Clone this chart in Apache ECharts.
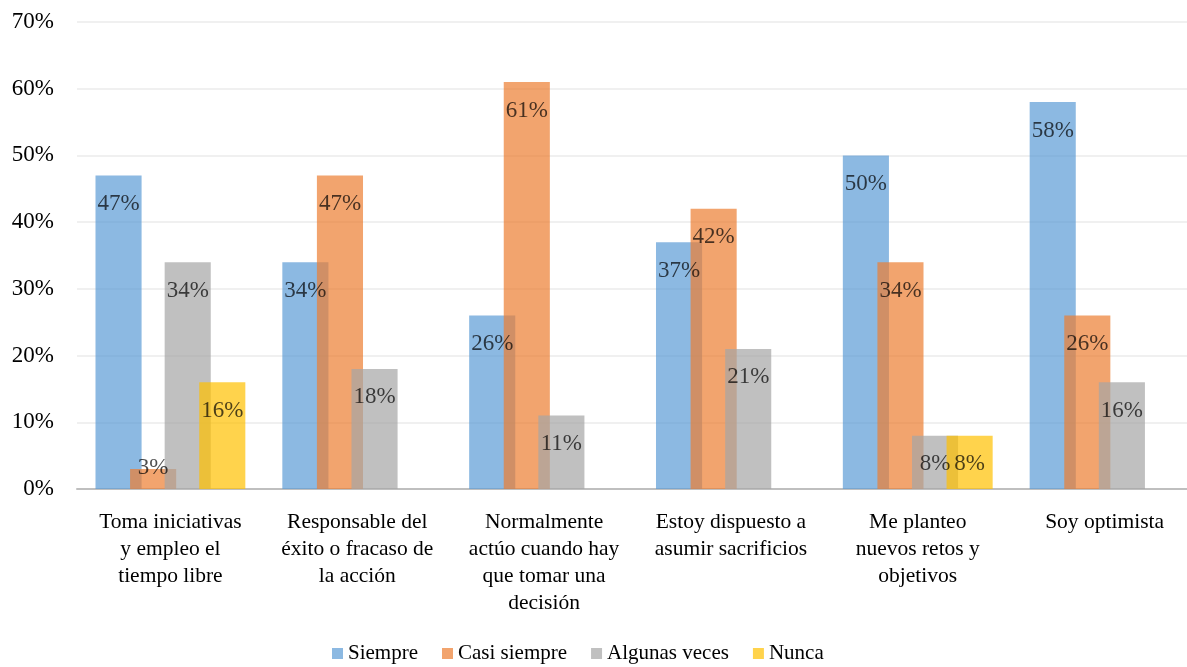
<!DOCTYPE html>
<html><head><meta charset="utf-8">
<script src="https://cdn.jsdelivr.net/npm/echarts@6/dist/echarts.min.js"></script>
<style>html,body{margin:0;padding:0;background:#fff;overflow:hidden;width:1187px;height:667px}#c{width:1200px;height:667px}</style>
</head><body><div id="c"></div>
<script>
const categories = [
  "Toma iniciativas\ny empleo el\ntiempo libre",
  "Responsable del\néxito o fracaso de\nla acción",
  "Normalmente\nactúo cuando hay\nque tomar una\ndecisión",
  "Estoy dispuesto a\nasumir sacrificios",
  "Me planteo\nnuevos retos y\nobjetivos",
  "Soy optimista"
];
const seriesNames = ["Siempre", "Casi siempre", "Algunas veces", "Nunca"];
const siempre = [47, 34, 26, 37, 50, 58];
const casiSiempre = [3, 47, 61, 42, 34, 26];
const algunasVeces = [34, 18, 11, 21, 8, 16];
const nunca = [16, null, null, null, 8, null];
const yTicks = [0, 10, 20, 30, 40, 50, 60, 70];

const colors = ["#5B9BD5", "#ED7D31", "#A5A5A5", "#FFC000"];
const font = '"Liberation Serif", "Times New Roman", serif';
const allData = [siempre, casiSiempre, algunasVeces, nunca];

const series = allData.map((arr, i) => ({
  name: seriesNames[i],
  type: 'bar',
  barGap: '-25%',
  barCategoryGap: '19.8%',
  itemStyle: { color: colors[i], opacity: 0.7 },
  data: arr.map(v => {
    if (v === null) return null;
    if (v < 5) return { value: v, label: { position: 'top', distance: -10 } };
    return v;
  }),
  label: {
    show: true,
    position: 'insideTop',
    distance: 17,
    color: '#000',
    fontFamily: font,
    fontSize: 23,
    formatter: p => p.value == null ? '' : p.value + '%'
  }
}));

const chart = echarts.init(document.getElementById('c'));
chart.setOption({
  animation: false,
  color: colors,
  grid: { left: 77, right: 2, top: 22, bottom: 178, containLabel: false },
  legend: {
    data: seriesNames,
    left: 332,
    top: 643,
    padding: 0,
    itemWidth: 11,
    itemHeight: 11,
    itemGap: 24,
    icon: 'rect',
    itemStyle: { opacity: 0.7 },
    textStyle: { fontFamily: font, fontSize: 21, color: '#000' }
  },
  xAxis: {
    type: 'category',
    data: categories,
    axisTick: { show: false },
    axisLine: { lineStyle: { color: '#BFBFBF', width: 2 } },
    axisLabel: { interval: 0, fontFamily: font, fontSize: 21.5, color: '#000', lineHeight: 27, margin: 20 }
  },
  yAxis: {
    type: 'value',
    min: yTicks[0],
    max: yTicks[yTicks.length - 1],
    interval: 10,
    axisLine: { show: false },
    axisTick: { show: false },
    splitLine: { lineStyle: { color: '#EBEBEB', width: 1.5 } },
    axisLabel: { formatter: '{value}%', fontFamily: font, fontSize: 23, color: '#000', margin: 23 }
  },
  series: series
});
</script>
</body></html>
